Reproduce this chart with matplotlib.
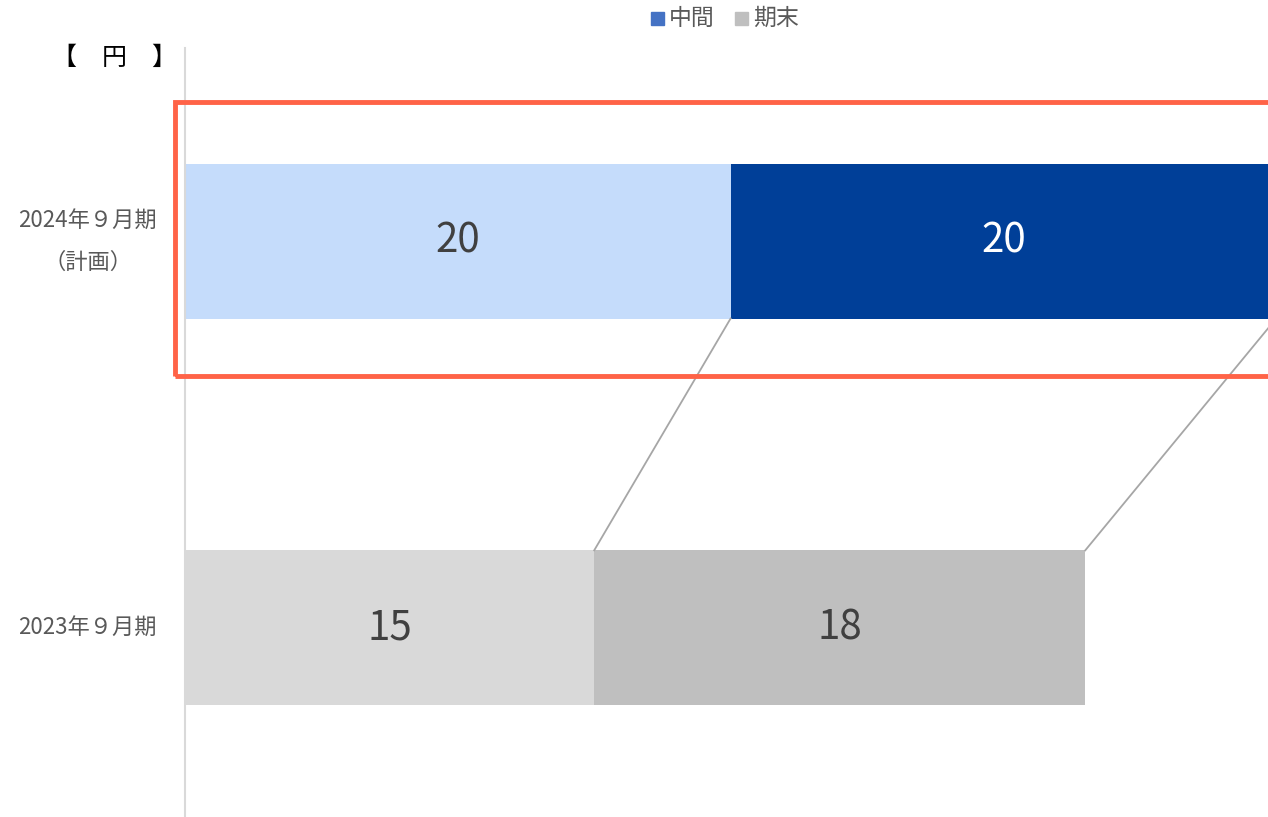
import numpy as np
import matplotlib.pyplot as plt
from matplotlib.patches import Rectangle

plt.rcParams['font.family'] = ['Noto Sans CJK JP', 'DejaVu Sans']

# 配当（円）: 中間 / 期末
periods = ["2023年９月期", "2024年９月期\n（計画）"]
interim = [15, 20]
year_end = [18, 20]

interim_colors = ["#D9D9D9", "#C5DCFB"]
year_end_colors = ["#BFBFBF", "#003F98"]
label_colors_interim = ["#404040", "#404040"]
label_colors_end = ["#404040", "#FFFFFF"]

W, H = 1268, 817
fig = plt.figure(figsize=(W / 100, H / 100), dpi=100)
ax = fig.add_axes([185 / W, 0, 1 - 185 / W, 1 - 48 / H])

y = np.arange(len(periods))
bar_h = 0.4

ax.barh(y, interim, height=bar_h, color=interim_colors)
ax.barh(y, year_end, left=interim, height=bar_h, color=year_end_colors)

for i in range(len(periods)):
    ax.text(interim[i] / 2, y[i], f"{interim[i]}", ha="center", va="center",
            fontsize=29, color=label_colors_interim[i])
    ax.text(interim[i] + year_end[i] / 2, y[i], f"{year_end[i]}", ha="center",
            va="center", fontsize=29, color=label_colors_end[i])

# 前期と今期をつなぐ線
cum_prev = [interim[0], interim[0] + year_end[0]]
cum_cur = [interim[1], interim[1] + year_end[1]]
for a, b in zip(cum_prev, cum_cur):
    ax.plot([a, b], [y[0] + bar_h / 2, y[1] - bar_h / 2], color="#A6A6A6",
            lw=1.3, clip_on=False, zorder=1)

ax.set_xlim(0, 39.7)
ax.set_ylim(-0.49, 1.5)

ax.set_yticks(y)
ax.set_yticklabels(periods, fontsize=16, color="#595959", linespacing=2.05,
                   ha="center", va="center", multialignment="center")
ax.tick_params(axis="y", length=0, pad=70)
ax.set_xticks([])
for s in ["top", "right", "bottom"]:
    ax.spines[s].set_visible(False)
ax.spines["left"].set_color("#D9D9D9")
ax.spines["left"].set_linewidth(1.5)

# 今期の強調枠
ax.add_patch(Rectangle((-0.37, 0.65), 41, 0.71, fill=False,
                       edgecolor="#FF6347", lw=3.5, clip_on=False, zorder=5))

fig.text(52 / W, 1 - 58 / H, "【　円　】", fontsize=18, color="#000000",
         ha="left", va="center")

# 凡例
fig.patches.append(Rectangle((651 / W, 1 - 25 / H), 13 / W, 13 / H,
                             transform=fig.transFigure, color="#4472C4"))
fig.text(669 / W, 1 - 18 / H, "中間", fontsize=16.5, color="#595959",
         ha="left", va="center")
fig.patches.append(Rectangle((735 / W, 1 - 25 / H), 13 / W, 13 / H,
                             transform=fig.transFigure, color="#BFBFBF"))
fig.text(753 / W, 1 - 18 / H, "期末", fontsize=16.5, color="#595959",
         ha="left", va="center")

fig.savefig("out.png", dpi=100)
